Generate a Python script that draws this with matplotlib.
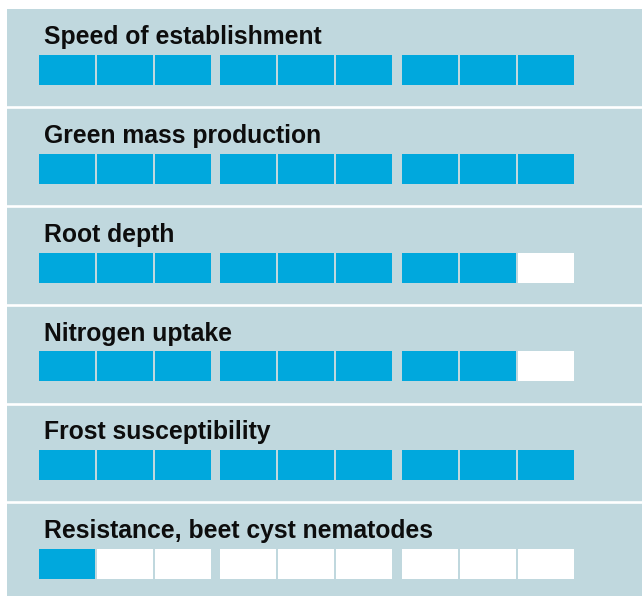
import matplotlib
matplotlib.use("Agg")
import matplotlib.pyplot as plt

# Ratings on a 9-point scale
traits = [
    "Speed of establishment",
    "Green mass production",
    "Root depth",
    "Nitrogen uptake",
    "Frost susceptibility",
    "Resistance, beet cyst nematodes",
]
scores = [9, 9, 8, 8, 9, 1]
max_score = 9

BLUE = "#00a8dd"
PANEL = "#c0d8de"

W, H = 642, 596
fig = plt.figure(figsize=(W / 100, H / 100), dpi=100)
ax = fig.add_axes([0, 0, 1, 1])
ax.set_xlim(0, W)
ax.set_ylim(H, 0)
ax.axis("off")

# background panel
ax.add_patch(plt.Rectangle((7, 9), W - 7, H - 9, facecolor=PANEL, edgecolor="none"))

row_pitch = 98.8
cell_w, cell_h = 56, 30
cell_pitch = 58
group_pitch = 181.3
x0 = 39

for i, (name, score) in enumerate(zip(traits, scores)):
    top = 55 + row_pitch * i
    ax.text(44, 44.3 + row_pitch * i, name, fontsize=17.85, fontweight="bold",
            family="Liberation Sans", color="#0d0d0d", va="baseline", ha="left")
    lefts = [x0 + (j // 3) * group_pitch + (j % 3) * cell_pitch for j in range(max_score)]
    colors = [BLUE if j < score else "white" for j in range(max_score)]
    ax.bar(lefts, cell_h, width=cell_w, bottom=top, align="edge",
           color=colors, edgecolor="none")
    if i < len(traits) - 1:
        ax.axhline(107.2 + row_pitch * i, xmin=7 / W, xmax=1, color="white", lw=1.9)

fig.savefig("out.png", dpi=100)
